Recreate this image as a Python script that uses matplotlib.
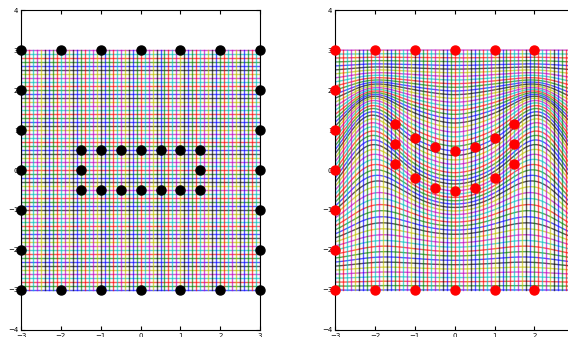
import numpy as np
import matplotlib.pyplot as plt

# landmarks (source positions, left panel)
src_x = [-3, -2, -1, 0, 1, 2, 3,
         -3, -2, -1, 0, 1, 2, 3,
         -3, -3, -3, -3, -3,
         3, 3, 3, 3, 3,
         -1.5, -1, -0.5, 0, 0.5, 1, 1.5,
         -1.5, 1.5,
         -1.5, -1, -0.5, 0, 0.5, 1, 1.5]
src_y = [3, 3, 3, 3, 3, 3, 3,
         -3, -3, -3, -3, -3, -3, -3,
         -2, -1, 0, 1, 2,
         -2, -1, 0, 1, 2,
         0.5, 0.5, 0.5, 0.5, 0.5, 0.5, 0.5,
         0, 0,
         -0.5, -0.5, -0.5, -0.5, -0.5, -0.5, -0.5]
# landmarks after warping (right panel)
dst_x = list(src_x)
dst_y = [3, 3, 3, 3, 3, 3, 3,
         -3, -3, -3, -3, -3, -3, -3,
         -2, -1, 0, 1, 2,
         -2, -1, 0, 1, 2,
         1.16, 0.79, 0.57, 0.48, 0.57, 0.79, 1.16,
         0.66, 0.66,
         0.16, -0.21, -0.44, -0.52, -0.44, -0.21, 0.16]

grid = np.linspace(-3, 3, 61)
colors = 'bgrcmyk'
sigma = 0.9


def kernel(r):
    return np.exp(-r ** 2 / (2 * sigma ** 2))


def rbf_fit(sx, sy, dx, dy):
    pts = np.column_stack([sx, sy])
    n = len(pts)
    K = kernel(np.linalg.norm(pts[:, None] - pts[None], axis=2))
    P = np.column_stack([np.ones(n), pts])
    L = np.zeros((n + 3, n + 3))
    L[:n, :n] = K
    L[:n, n:] = P
    L[n:, :n] = P.T
    rhs = np.zeros((n + 3, 2))
    rhs[:n, 0] = dx
    rhs[:n, 1] = dy
    coef = np.linalg.solve(L, rhs)
    return pts, coef


def rbf_apply(pts, coef, x, y):
    q = np.column_stack([x.ravel(), y.ravel()])
    U = kernel(np.linalg.norm(q[:, None] - pts[None], axis=2))
    n = len(pts)
    out = U @ coef[:n] + coef[n] + q @ coef[n + 1:]
    return out[:, 0].reshape(x.shape), out[:, 1].reshape(x.shape)


pts, coef = rbf_fit(src_x, src_y, dst_x, dst_y)

fig = plt.figure(figsize=(5.68, 3.37), dpi=100)
ax1 = fig.add_axes([0.037, 0.021, 0.421, 0.949])
ax2 = fig.add_axes([0.590, 0.021, 0.421, 0.949])

t = np.linspace(-3, 3, 241)
for i, g in enumerate(grid):
    c = colors[i % 7]
    ax1.plot(t, np.full_like(t, g), color=c, lw=1, alpha=0.65)
    wx, wy = rbf_apply(pts, coef, t, np.full_like(t, g))
    ax2.plot(wx, wy, color=c, lw=1, alpha=0.65)
for i, g in enumerate(grid):
    c = colors[i % 7]
    ax1.plot(np.full_like(t, g), t, color=c, lw=1, alpha=0.65)
    wx, wy = rbf_apply(pts, coef, np.full_like(t, g), t)
    ax2.plot(wx, wy, color=c, lw=1, alpha=0.65)

ax1.plot(src_x, src_y, 'ko', ms=6.5, clip_on=False, zorder=5)
ax2.plot(dst_x, dst_y, 'ro', ms=6.5, mec='r', clip_on=False, zorder=5)

for ax in (ax1, ax2):
    ax.set_xlim(-3, 3)
    ax.set_ylim(-4, 4)
    ax.set_xticks(range(-3, 4))
    ax.set_yticks(range(-4, 5))
    ax.tick_params(direction='in', length=3, labelsize=5, pad=2,
                   top=True, right=True)

fig.savefig('out.png', dpi=100)
